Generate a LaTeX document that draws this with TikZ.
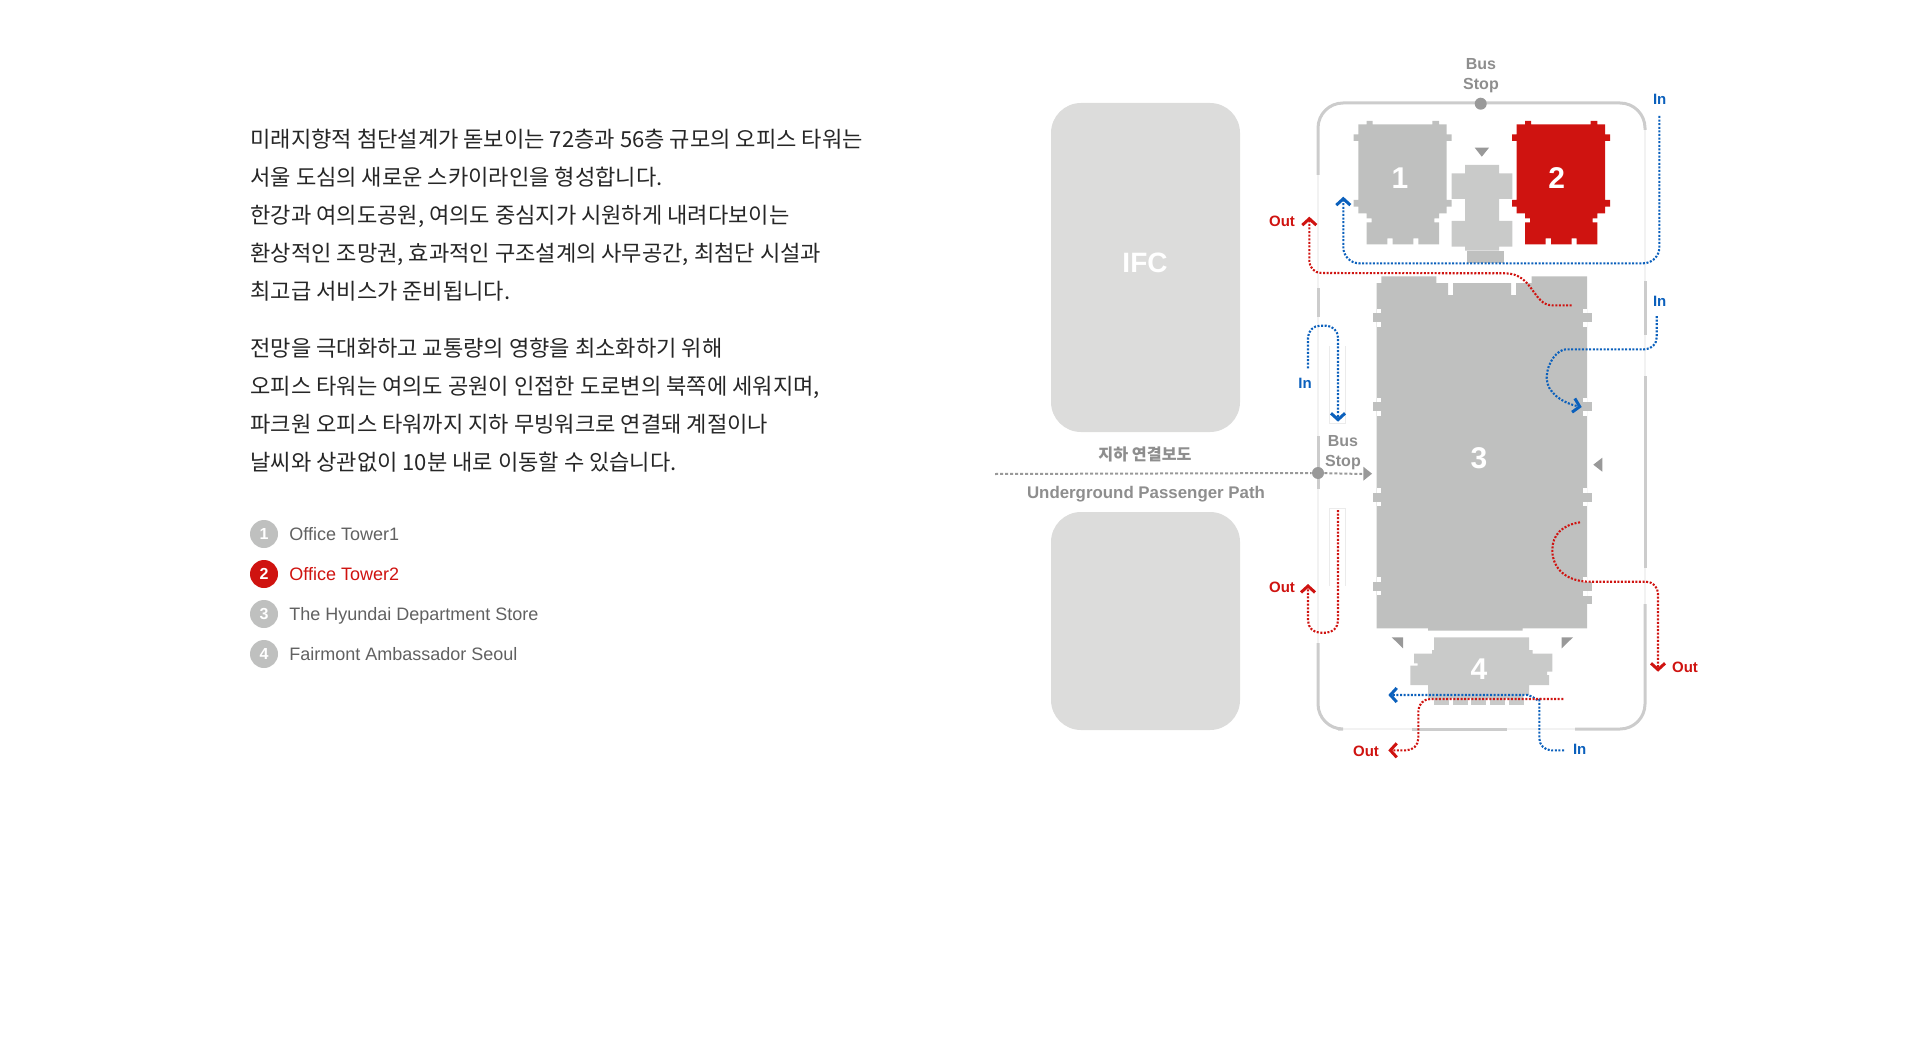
\documentclass[tikz,border=0pt]{standalone}
\usepackage{fontspec}
\setmainfont{Noto Sans CJK KR}
\newfontfamily\latinfont{Liberation Sans}
\usetikzlibrary{arrows.meta}
\definecolor{towergrey}{HTML}{BFC0BF}
\definecolor{annexgrey}{HTML}{C9CAC9}
\definecolor{ifcgrey}{HTML}{DCDCDB}
\definecolor{markgrey}{HTML}{999999}
\definecolor{siteline}{HTML}{CCCCCC}
\definecolor{thinline}{HTML}{EBEBEB}
\definecolor{labelgrey}{HTML}{8E8E8E}
\definecolor{towerred}{HTML}{CF1310}
\definecolor{routeblue}{HTML}{0B60BC}
\begin{document}
\begin{tikzpicture}[x=0.5pt, y=-0.5pt,
  bodyline/.style={anchor=west, inner sep=0, font=\fontsize{11.05}{12}\selectfont, text=black!85, text height=12pt, text depth=1.6pt},
  legendtext/.style={anchor=west, inner sep=0, font=\fontsize{9}{10}\latinfont, text=black!62, text height=9pt, text depth=2.3pt},
  legenddot/.style={circle, inner sep=0, minimum size=14pt, fill=towergrey, text=white, font=\fontsize{8}{10}\latinfont\bfseries},
  planno/.style={inner sep=0, text=white, font=\fontsize{15}{16}\latinfont\bfseries},
  greytext/.style={inner sep=0, text=labelgrey, align=center, font=\fontsize{8}{10}\latinfont\bfseries},
  routelabel/.style={inner sep=0, font=\fontsize{7.5}{9}\latinfont\bfseries},
  bluetext/.style={routelabel, text=routeblue},
  redtext/.style={routelabel, text=towerred},
  route/.style={line width=1.05pt, dash pattern=on 1pt off 0.8pt, rounded corners=6pt,
    -{Straight Barb[length=3.2pt, width=7pt, line width=1.5pt]}},
  blueroute/.style={route, draw=routeblue},
  redroute/.style={route, draw=towerred},
  sitebar/.style={draw=siteline, line width=1.5pt, rounded corners=12.5pt},
  thinbar/.style={draw=thinline, line width=0.6pt},
  gatemark/.style={fill=markgrey},
  tower/.pic={
    \path[pic actions] (4.7,3.3) -- (13,3.3) -- (13,0) -- (19,0) -- (19,3.3) -- (78.7,3.3) -- (78.7,0) -- (85.3,0)
      -- (85.3,3.3) -- (93,3.3) -- (93,13.3) -- (98,13.3) -- (98,20) -- (93,20) -- (93,79) -- (98,79) -- (98,85.7)
      -- (93,85.7) -- (93,92.3) -- (85.3,92.3) -- (85.3,97.3) -- (80.7,97.3) -- (80.7,101.3) -- (85.3,101.3) -- (85.3,123.3)
      -- (64.7,123.3) -- (64.7,117.3) -- (59.7,117.3) -- (59.7,123.3) -- (39,123.3) -- (39,117.3) -- (33.7,117.3)
      -- (33.7,123.3) -- (13,123.3) -- (13,101.3) -- (18,101.3) -- (18,97.3) -- (13,97.3) -- (13,92.3) -- (4.7,92.3) -- (4.7,85.7)
      -- (0,85.7) -- (0,79) -- (4.7,79) -- (4.7,20) -- (0,20) -- (0,13.3) -- (4.7,13.3) -- cycle;
  }]
  \useasboundingbox (0,0) rectangle (1920,1064);

  % text on the left
  \node[bodyline] (t1) at (250,137) {미래지향적 첨단설계가 돋보이는 72층과 56층 규모의 오피스 타워는};
  \node[bodyline] (t2) at (250,175) {서울 도심의 새로운 스카이라인을 형성합니다.};
  \node[bodyline] (t3) at (250,213) {한강과 여의도공원, 여의도 중심지가 시원하게 내려다보이는};
  \node[bodyline] (t4) at (250,251) {환상적인 조망권, 효과적인 구조설계의 사무공간, 최첨단 시설과};
  \node[bodyline] (t5) at (250,289) {최고급 서비스가 준비됩니다.};
  \node[bodyline] (t6) at (250,346.5) {전망을 극대화하고 교통량의 영향을 최소화하기 위해};
  \node[bodyline] (t7) at (250,384.5) {오피스 타워는 여의도 공원이 인접한 도로변의 북쪽에 세워지며,};
  \node[bodyline] (t8) at (250,422.5) {파크원 오피스 타워까지 지하 무빙워크로 연결돼 계절이나};
  \node[bodyline] (t9) at (250,460.5) {날씨와 상관없이 10분 내로 이동할 수 있습니다.};

  % legend
  \node[legenddot] (d1) at (264,534) {1};
  \node[legenddot, fill=towerred] (d2) at (264,574) {2};
  \node[legenddot] (d3) at (264,614) {3};
  \node[legenddot] (d4) at (264,654) {4};
  \node[legendtext] (n1) at (289,534) {Office Tower1};
  \node[legendtext, text=towerred] (n2) at (289,574) {Office Tower2};
  \node[legendtext] (n3) at (289,614) {The Hyundai Department Store};
  \node[legendtext] (n4) at (289,654) {Fairmont Ambassador Seoul};

  % IFC blocks
  \fill[ifcgrey, rounded corners=15pt] (1051,103) rectangle (1240,432);
  \fill[ifcgrey, rounded corners=15pt] (1051,512) rectangle (1240,730);
  \node[planno, font=\fontsize{14}{16}\latinfont\bfseries] (ifc) at (1145,263) {IFC};

  % site outline
  \draw[thinbar, rounded corners=12.5pt] (1318,103) rectangle (1645,729);
  \draw[sitebar] (1318,175) -- (1318,103) -- (1645,103) -- (1645,130);
  \draw[sitebar] (1318,643) -- (1318,729) -- (1338,729);
  \draw[sitebar] (1412,729) -- (1507,729);
  \draw[sitebar] (1575,729) -- (1645,729) -- (1645,604);
  \draw[sitebar] (1318,288) -- (1318,317);
  \draw[sitebar] (1318,436) -- (1318,489);
  \draw[sitebar] (1645,281) -- (1645,335);
  \draw[sitebar] (1645,376) -- (1645,568);
  \draw[thinbar] (1329.3,346) -- (1329.3,423.3) -- (1345.7,423.3) -- (1345.7,346);
  \draw[thinbar] (1329.3,586) -- (1329.3,508.3) -- (1345.7,508.3) -- (1345.7,586);

  % towers 1 and 2 with the annex between them
  \pic[fill=towergrey] at (1353.7,121) {tower};
  \pic[fill=towerred] at (1512,121) {tower};
  \fill[annexgrey] (1465,165) -- (1499,165) -- (1499,173.3) -- (1512.3,173.3) -- (1512.3,199) -- (1499,199) -- (1499,221)
    -- (1512.3,221) -- (1512.3,246.7) -- (1499,246.7) -- (1499,250.7) -- (1465,250.7) -- (1465,246.7) -- (1451.7,246.7)
    -- (1451.7,221) -- (1465,221) -- (1465,199) -- (1451.7,199) -- (1451.7,173.3) -- (1465,173.3) -- cycle;
  \fill[towergrey] (1467,250.7) rectangle (1503.7,262.7);

  % department store
  \fill[towergrey] (1381.3,276.3) -- (1436.3,276.3) -- (1436.3,283) -- (1448,283) -- (1448,295) -- (1453,295) -- (1453,283)
    -- (1511,283) -- (1511,295) -- (1516,295) -- (1516,283) -- (1531.7,283) -- (1531.7,276.3) -- (1587,276.3)
    -- (1587,628.3) -- (1522.7,628.3) -- (1522.7,630.7) -- (1428,630.7) -- (1428,628.3) -- (1376.7,628.3)
    -- (1376.7,283) -- (1381.3,283) -- cycle;
  \foreach \tabY in {313.3,402.3,492.7,581.7}{
    \fill[white] (1376.7,\tabY-4.3) rectangle (1381.3,\tabY+13.3);
    \fill[white] (1582.5,\tabY-4.3) rectangle (1587,\tabY+13.3);
    \fill[towergrey] (1372.7,\tabY) rectangle (1381.3,\tabY+9);
    \fill[towergrey] (1582.5,\tabY) rectangle (1591.7,\tabY+9);
  }
  \fill[white] (1582.5,590.7) rectangle (1587,596);
  \fill[towergrey] (1582.5,596) rectangle (1591.7,604.3);

  % hotel
  \fill[annexgrey] (1434,637.3) -- (1529,637.3) -- (1529,650) -- (1532.7,650) -- (1532.7,653.7) -- (1552.3,653.7)
    -- (1552.3,671.7) -- (1547,671.7) -- (1547,675) -- (1549,675) -- (1549,685) -- (1529,685) -- (1529,695)
    -- (1523.3,695) -- (1523.3,698.3) -- (1428,698.3) -- (1428,685) -- (1410.3,685) -- (1410.3,665.7) -- (1417.7,665.7)
    -- (1417.7,663.3) -- (1414,663.3) -- (1414,653.7) -- (1432,653.7) -- (1432,650) -- (1434,650) -- cycle;
  \foreach \tileX in {1434,1453,1471.3,1490,1509}{
    \fill[annexgrey] (\tileX,698.3) rectangle (\tileX+14.7,704.6);
  }

  \node[planno] (no1) at (1400,178) {1};
  \node[planno] (no2) at (1556.7,178) {2};
  \node[planno] (no3) at (1479,458) {3};
  \node[planno] (no4) at (1479,669.3) {4};

  % entrance marks
  \fill[gatemark] (1474.7,147.7) -- (1489,147.7) -- (1481.8,156.7) -- cycle;
  \fill[gatemark] (1363.3,466.7) -- (1363.3,480.7) -- (1372,473.7) -- cycle;
  \fill[gatemark] (1602.3,457.7) -- (1602.3,471.7) -- (1593.3,464.7) -- cycle;
  \fill[gatemark] (1391.7,637.3) -- (1403,637.3) -- (1403,648.3) -- cycle;
  \fill[gatemark] (1573,637.3) -- (1561.7,637.3) -- (1561.7,648.3) -- cycle;

  % bus stops and underground path
  \node[circle, fill=markgrey, inner sep=0, minimum size=6pt] (stopa) at (1480.7,103.7) {};
  \node[circle, fill=markgrey, inner sep=0, minimum size=6pt] (stopb) at (1318,473) {};
  \coordinate (patha) at (995,474);
  \coordinate (pathb) at (1362,474);
  \draw[markgrey, line width=1pt, dash pattern=on 1.5pt off 1pt] (patha) -- (stopb) -- (pathb);
  \node[greytext] (busa) at (1481,75.5) {Bus\\Stop};
  \node[greytext] (busb) at (1343,453) {Bus\\Stop};
  \node[greytext, font=\fontsize{8.1}{10}\selectfont\bfseries] (pathko) at (1145,454) {지하 연결보도};
  \node[greytext, font=\fontsize{8.43}{10}\latinfont\bfseries] (pathen) at (1146,494) {Underground Passenger Path};

  % route labels
  \node[bluetext] (ina) at (1659.7,99) {In};
  \node[bluetext] (inb) at (1659.7,301.7) {In};
  \node[bluetext] (inc) at (1305,383.7) {In};
  \node[bluetext] (ind) at (1579.7,749.7) {In};
  \node[redtext] (outa) at (1282,221.7) {Out};
  \node[redtext] (outb) at (1282,587.7) {Out};
  \node[redtext] (outc) at (1685,667.7) {Out};
  \node[redtext] (outd) at (1366,751.3) {Out};

  % route ends
  \coordinate (ina0) at (1659.3,116);
  \coordinate (ina1) at (1343.3,196.7);
  \coordinate (inb0) at (1656.7,316);
  \coordinate (inb1) at (1581.7,407);
  \coordinate (inc0) at (1308,368.3);
  \coordinate (inc1) at (1338,421.7);
  \coordinate (ind0) at (1564,750.3);
  \coordinate (ind1) at (1388.3,695);
  \coordinate (outa0) at (1571.7,305.3);
  \coordinate (outa1) at (1309.3,216.7);
  \coordinate (outb0) at (1338,510);
  \coordinate (outb1) at (1308,584);
  \coordinate (outc0) at (1580,522.3);
  \coordinate (outc1) at (1658,671.7);
  \coordinate (outd0) at (1563.3,699);
  \coordinate (outd1) at (1388.3,750.3);

  % blue routes
  \draw[blueroute, rounded corners=8pt] (ina0) -- (1659.3,263.3) -- (1343.3,263.3) -- (ina1);
  \draw[blueroute] (inb0) -- (1656.7,349.3) -- (1578,349.3) [sharp corners]
    .. controls (1558,349.3) and (1546.7,362) .. (1546.7,378.3)
    .. controls (1546.7,392) and (1562,403) .. (inb1);
  \draw[blueroute] (inc0) -- (1308,325.7) -- (1338,325.7) -- (inc1);
  \draw[blueroute] (ind0) -- (1539.3,750.3) -- (1539.3,712) [sharp corners]
    .. controls (1539.3,703) and (1535,697) .. (1528,695) -- (ind1);

  % red routes
  \draw[redroute] (outa0) [sharp corners] -- (1552,305.3)
    .. controls (1533,305.3) and (1533,273.3) .. (1505,273.3) [rounded corners=6pt] -- (1309.3,273) -- (outa1);
  \draw[redroute] (outb0) -- (1338,632.7) -- (1308,632.7) -- (outb1);
  \draw[redroute] (outc0) [sharp corners] .. controls (1562,525) and (1552.3,535) .. (1552.3,550)
    .. controls (1552.3,570) and (1568,581.7) .. (1590,581.7) [rounded corners=6pt] -- (1658,581.7) -- (outc1);
  \draw[redroute] (outd0) -- (1418.3,699) -- (1418.3,750.3) -- (outd1);
\end{tikzpicture}
\end{document}
